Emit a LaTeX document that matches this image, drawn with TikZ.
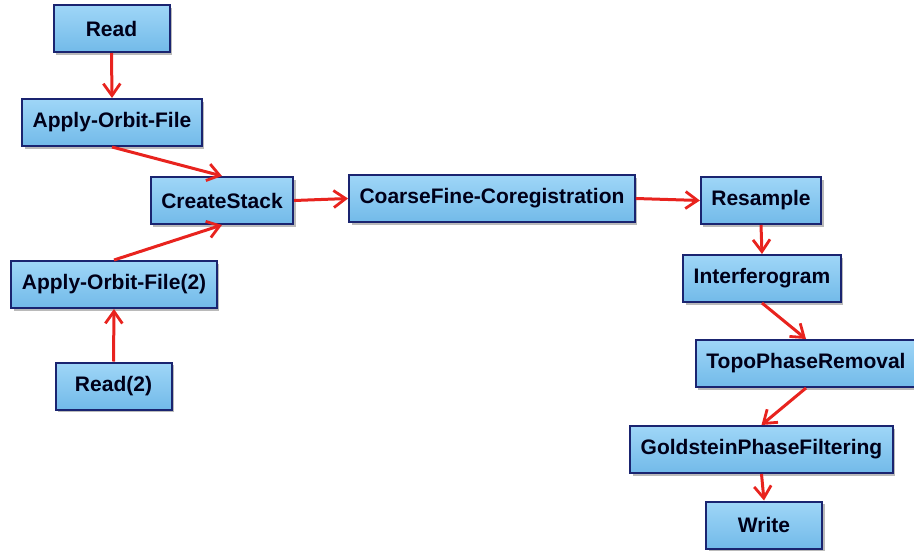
\documentclass[tikz,border=0pt]{standalone}
\usepackage{fontspec}
\setmainfont{Liberation Sans}
\usetikzlibrary{arrows.meta,shadows}

\definecolor{boxtop}{HTML}{9FD6F7}
\definecolor{boxbot}{HTML}{72BAE9}
\definecolor{boxline}{HTML}{1A2470}
\definecolor{flowred}{HTML}{E8231E}

\begin{document}
\begin{tikzpicture}[x=1pt, y=-1pt,
        op/.style={draw=boxline, line width=2pt, top color=boxtop, bottom color=boxbot,
            minimum width=116pt, minimum height=47pt, inner xsep=10.5pt,
            font=\fontsize{21}{25}\selectfont\bfseries, text=black!90!blue,
            drop shadow={shadow xshift=2.5pt, shadow yshift=-2.5pt, fill=black!45, opacity=.6}},
        flow/.style={draw=flowred, line width=3pt,
            -{Straight Barb[length=12pt, width=17pt, line width=2.8pt]}}]
    \useasboundingbox (0,0) rectangle (914,552);

    % first image and its orbit
    \node[op] (read)     at (111.5,28.5) {Read};
    \node[op] (orbit)    at (112,122.5)  {Apply-Orbit-File};
    % second image
    \node[op] (orbit2)   at (114,284.5)  {Apply-Orbit-File(2)};
    \node[op] (read2)    at (113.5,386)  {Read(2)};

    \node[op] (stack)    at (222,200.5)  {CreateStack};
    \node[op] (coreg)    at (492,198.5)  {CoarseFine-Coregistration};
    \node[op] (resample) at (761,200.5)  {Resample};
    \node[op] (ifg)      at (762,278.5)  {Interferogram};
    \node[op] (topo)     at (806,363.5)  {TopoPhaseRemoval};
    \node[op] (filter)   at (761.5,449.5){GoldsteinPhaseFiltering};
    \node[op] (write)    at (764,525)    {Write};

    \draw[flow] (read.south) -- (orbit.north);
    \draw[flow] (orbit.south) -- (stack.north);
    \draw[flow] (read2.north) -- (orbit2.south);
    \draw[flow] (orbit2.north) -- (stack.south);
    \draw[flow] (stack.east) -- (coreg.west);
    \draw[flow] (coreg.east) -- (resample.west);
    \draw[flow] (resample.south) -- (ifg.north);
    \draw[flow] (ifg.south) -- (topo.north);
    \draw[flow] (topo.south) -- (filter.north);
    \draw[flow] (filter.south) -- (write.north);

\end{tikzpicture}
\end{document}
